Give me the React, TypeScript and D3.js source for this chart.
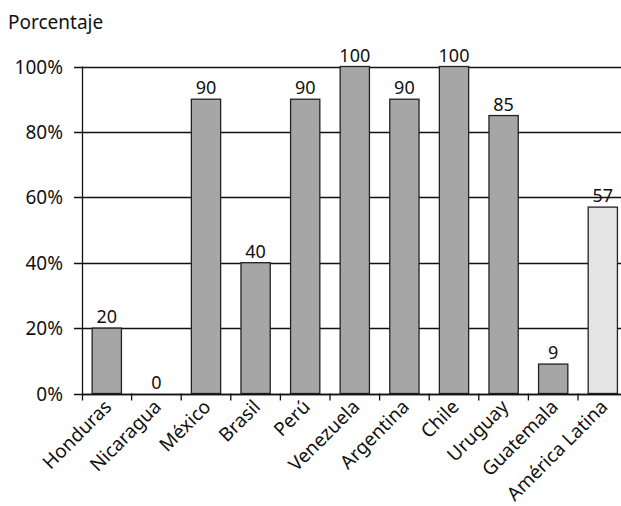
import React from "react";
import * as d3 from "d3";

const categories = ["Honduras", "Nicaragua", "México", "Brasil", "Perú", "Venezuela", "Argentina", "Chile", "Uruguay", "Guatemala", "América Latina"];
const values = [20, 0, 90, 40, 90, 100, 90, 100, 85, 9, 57];
const highlight = ["América Latina"];
const yTicks = [0, 20, 40, 60, 80, 100];
const yTitle = "Porcentaje";

const W = 621;
const H = 506;
const FONT = "'Noto Sans', sans-serif";

export default function App() {
  const left = 82;
  const step = 49.6;
  const x = d3
    .scaleBand<string>()
    .domain(categories)
    .range([left, left + step * categories.length])
    .paddingInner(0.41)
    .paddingOuter(0.205);
  const y = d3.scaleLinear().domain([0, 100]).range([393.5, 66.5]);
  const bw = x.bandwidth();

  return (
    <svg width={W} height={H} style={{ position: "absolute", left: 0, top: 0, background: "#fff" }} fontFamily={FONT}>
      <rect x={0} y={0} width={W} height={H} fill="#fff" />
      <text x={8} y={29} fontSize={19} fill="#111">{yTitle}</text>
      {yTicks.map((t) => (
        <g key={t}>
          <line x1={74} x2={W} y1={Math.round(y(t)) + 0.5} y2={Math.round(y(t)) + 0.5} stroke="#111" strokeWidth={1.3} />
          <text x={63} y={y(t) + 7} textAnchor="end" fontSize={19} fill="#111">{t}%</text>
        </g>
      ))}
      {categories.map((c, i) => (
        <g key={c}>
          <rect
            x={x(c)!}
            y={y(values[i])}
            width={bw}
            height={y(0) - y(values[i])}
            fill={highlight.includes(c) ? "#e4e4e4" : "#a6a6a6"}
            stroke="#222"
            strokeWidth={1.3}
          />
          <text x={x(c)! + bw / 2} y={y(values[i]) - 5} textAnchor="middle" fontSize={18} fill="#111">
            {values[i]}
          </text>
        </g>
      ))}
      <line x1={left + 0.5} x2={left + 0.5} y1={y(100)} y2={y(0) + 7} stroke="#111" strokeWidth={1.3} />
      <line x1={left} x2={W} y1={Math.round(y(0)) + 0.5} y2={Math.round(y(0)) + 0.5} stroke="#111" strokeWidth={1.3} />
      {categories.map((c, i) => {
        const tx = left + step * (i + 1);
        return <line key={"t" + c} x1={tx} x2={tx} y1={y(0)} y2={y(0) + 7} stroke="#111" strokeWidth={1.3} />;
      })}
      {categories.map((c) => {
        const cx = x(c)! + bw / 2 + 6;
        const cy = 408;
        return (
          <text key={"l" + c} x={cx} y={cy} transform={`rotate(-45 ${cx} ${cy})`} textAnchor="end" fontSize={19} fill="#111">
            {c}
          </text>
        );
      })}
    </svg>
  );
}
